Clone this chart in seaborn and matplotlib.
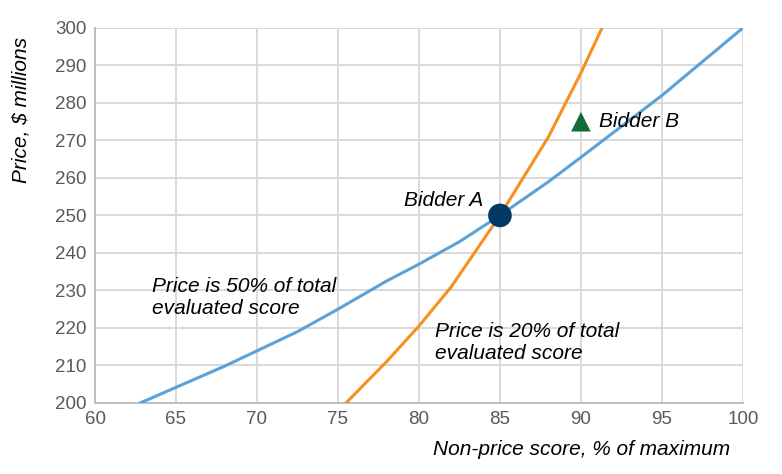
import numpy as np
import pandas as pd
import seaborn as sns
import matplotlib.pyplot as plt

# ---------------------------- data ----------------------------
blue_x = [62.8, 68.0, 72.5, 75.0, 78.0, 80.0, 82.5, 85.0, 88.0, 90.0, 95.0, 100.0]
blue_y = [200.0, 209.8, 219.0, 225.0, 232.5, 237.0, 243.0, 250.0, 259.0, 265.5, 282.0, 300.0]

orange_x = [75.5, 78.0, 80.0, 82.0, 85.0, 88.0, 90.0, 91.3]
orange_y = [200.0, 211.0, 220.5, 231.0, 250.0, 271.0, 288.0, 300.0]

bidder_a = (85, 250)
bidder_b = (90, 275)

df = pd.concat([
    pd.DataFrame({'score': blue_x, 'price': blue_y, 'weight': '50%'}),
    pd.DataFrame({'score': orange_x, 'price': orange_y, 'weight': '20%'}),
])

sns.set_style('white')
plt.rcParams['font.family'] = ['Liberation Sans', 'DejaVu Sans']
plt.rcParams['text.color'] = 'black'

fig, ax = plt.subplots(figsize=(7.82, 4.74), dpi=100)
fig.subplots_adjust(left=0.1215, right=0.95, top=0.941, bottom=0.15)

sns.lineplot(data=df, x='score', y='price', hue='weight', sort=False,
             palette={'50%': '#5aa2d8', '20%': '#f7901e'}, linewidth=2.2,
             legend=False, ax=ax, zorder=3)

ax.scatter([bidder_a[0]], [bidder_a[1]], s=290, color='#003a63', zorder=5,
           edgecolors='none', clip_on=False)
ax.scatter([bidder_b[0]], [bidder_b[1]], s=200, marker='^', color='#126b39',
           zorder=5, edgecolors='none')

ax.set_xlim(60, 100)
ax.set_ylim(200, 300)
ax.set_xticks(range(60, 101, 5))
ax.set_yticks(range(200, 301, 10))
ax.grid(True, color='#d9d9d9', linewidth=1.4)
ax.set_axisbelow(True)
for s in ['top', 'right']:
    ax.spines[s].set_visible(False)
for s in ['left', 'bottom']:
    ax.spines[s].set_color('#bfbfbf')
    ax.spines[s].set_linewidth(1.4)
ax.tick_params(axis='both', labelsize=13.5, colors='#595959', length=0, pad=6)

fs = 15
ax.set_xlabel('Non-price score, % of maximum', fontsize=fs, style='italic',
              color='black', loc='right')
ax.set_ylabel('Price, $ millions', fontsize=fs, style='italic',
              color='black', loc='top')
ax.xaxis.set_label_coords(0.98, -0.1)
ax.yaxis.set_label_coords(-0.10, 0.975)

ax.text(84.0, 254, 'Bidder A', fontsize=fs, style='italic', ha='right', va='center')
ax.text(91.1, 275, 'Bidder B', fontsize=fs, style='italic', ha='left', va='center')
ax.text(63.5, 233.5, 'Price is 50% of total\nevaluated score', fontsize=fs,
        style='italic', ha='left', va='top', linespacing=1.2)
ax.text(81.0, 221.5, 'Price is 20% of total\nevaluated score', fontsize=fs,
        style='italic', ha='left', va='top', linespacing=1.2)

fig.savefig('out.png', dpi=100)
